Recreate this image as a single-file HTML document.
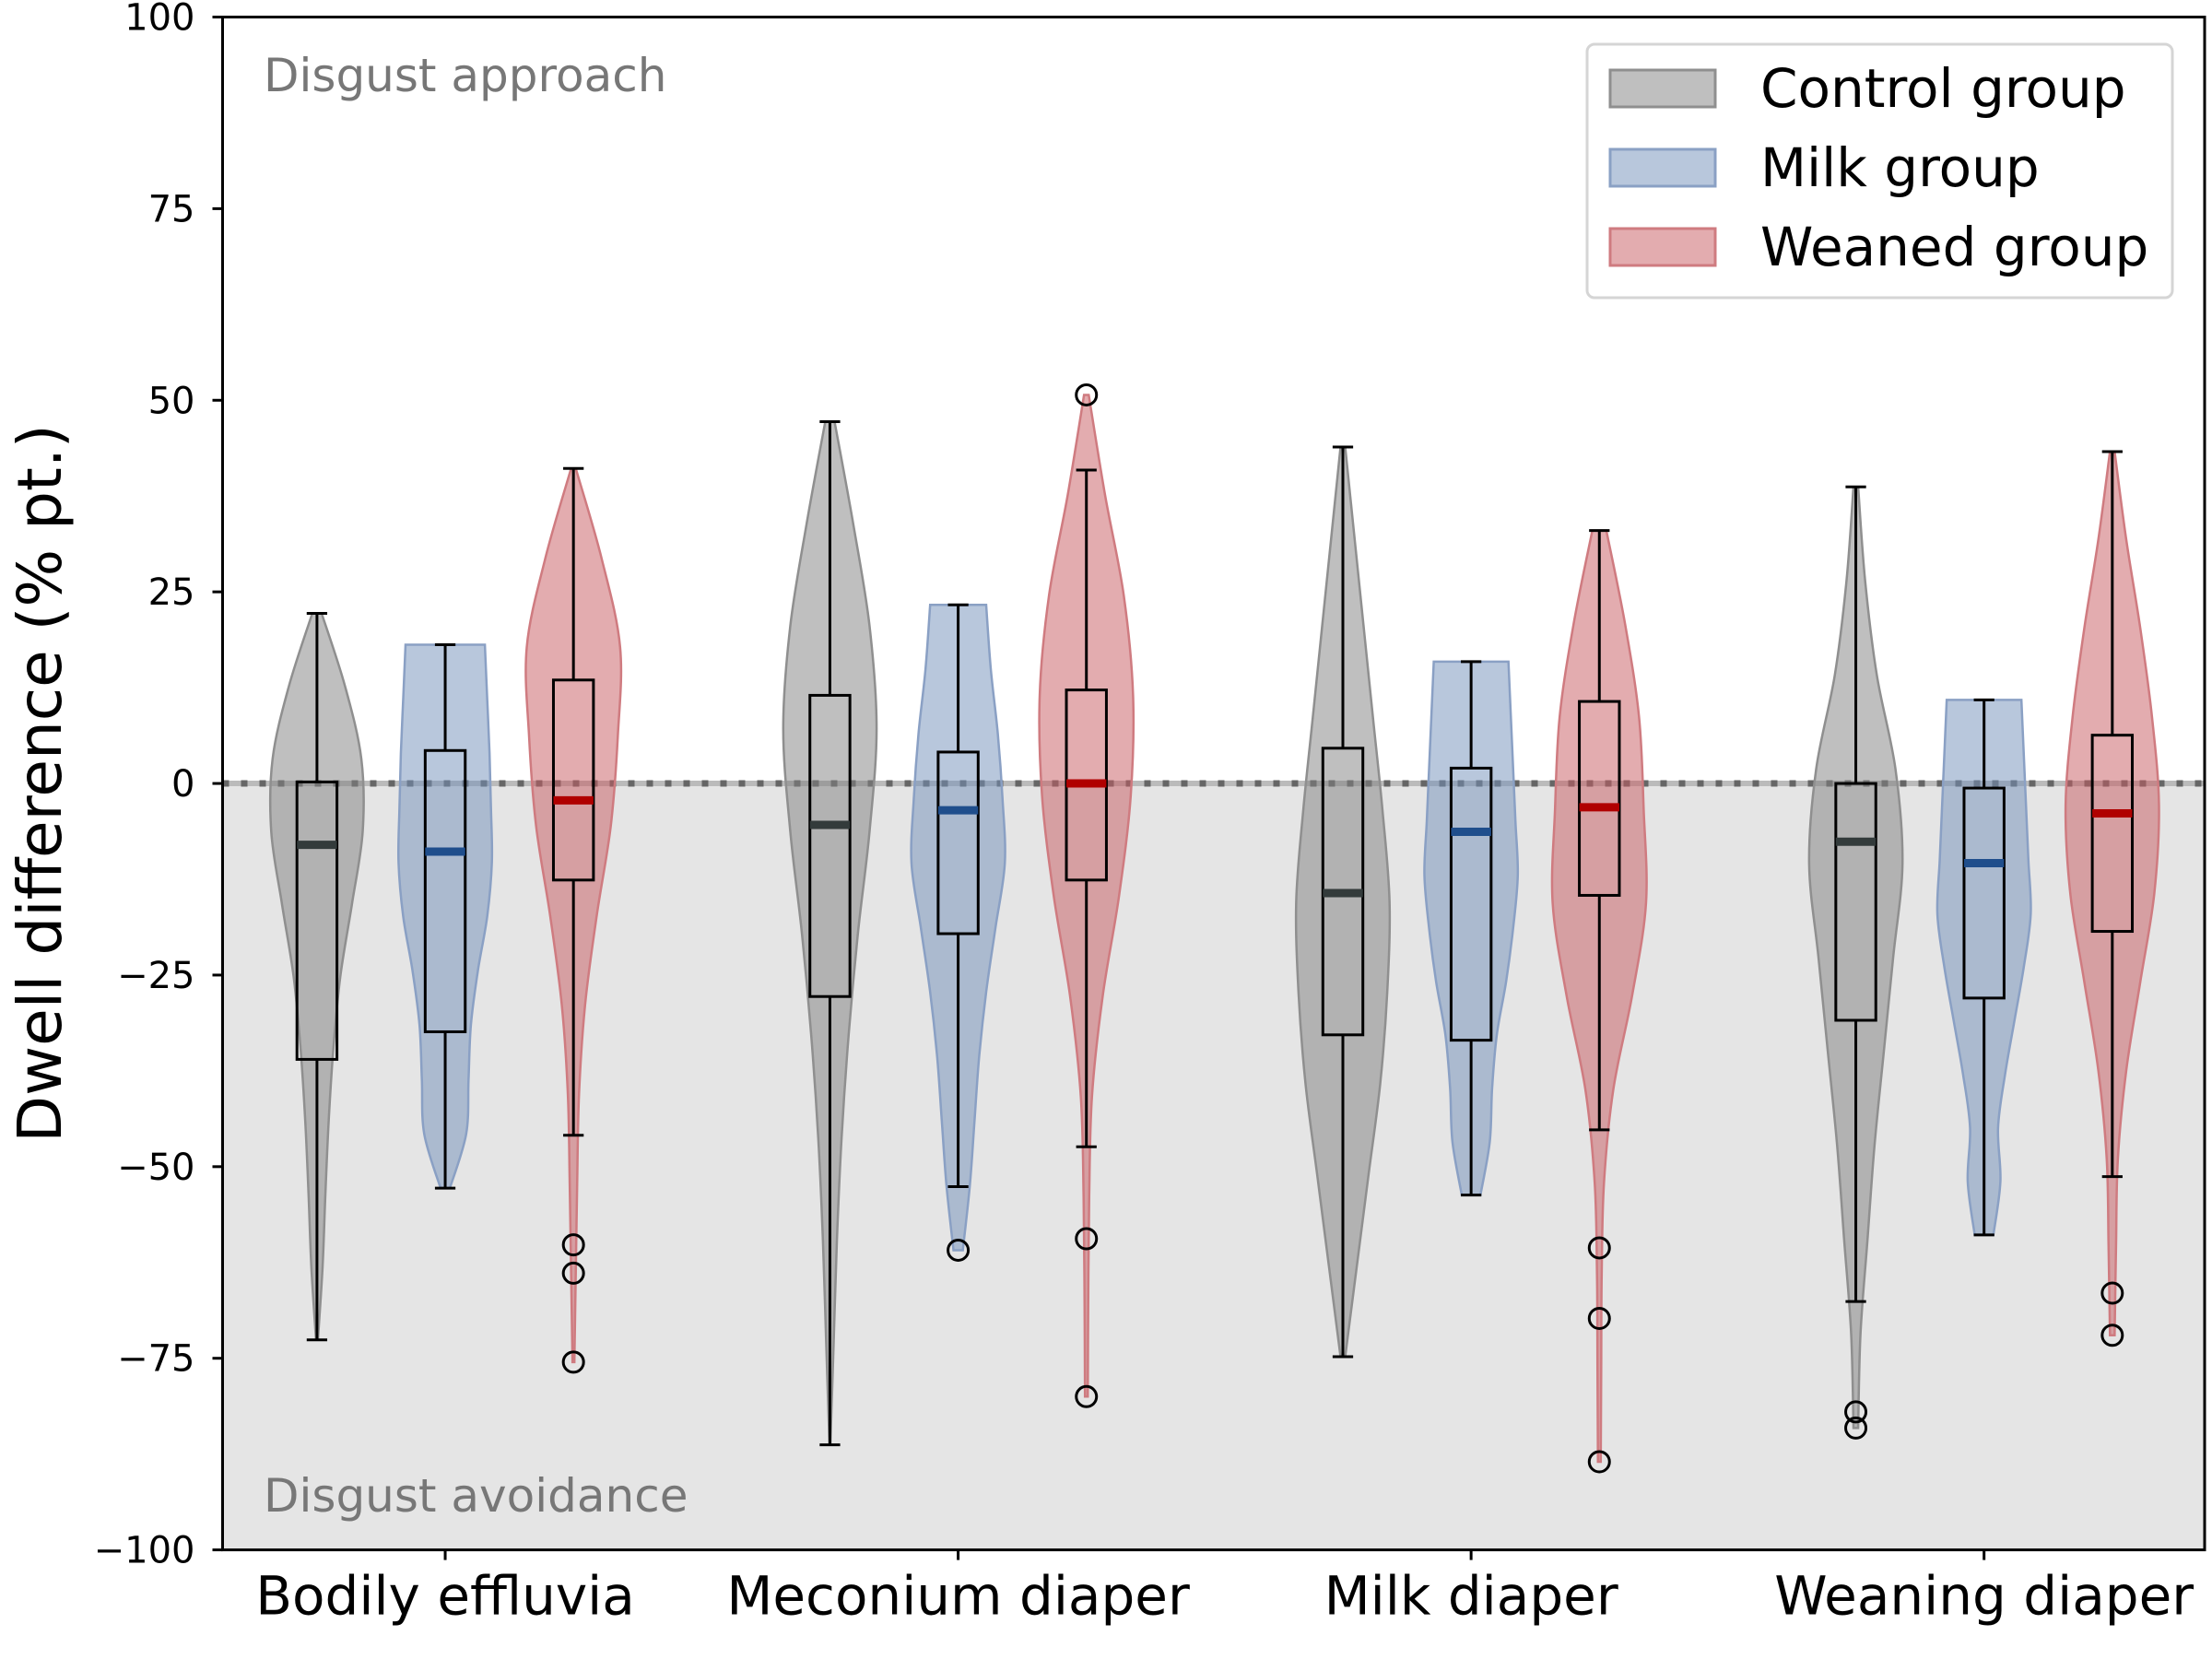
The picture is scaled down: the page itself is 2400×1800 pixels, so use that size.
<!DOCTYPE html>
<html><head><meta charset="utf-8"><style>
html,body{margin:0;padding:0;background:#fff}
svg{display:block;font-family:"DejaVu Sans","Liberation Sans",sans-serif}
</style></head><body>
<svg id="chart" width="2400" height="1800" viewBox="0 0 2400 1800" xmlns="http://www.w3.org/2000/svg">
<g id="plot"></g>
</svg>
<script>
const categories=["Bodily effluvia","Meconium diaper","Milk diaper","Weaning diaper"];
const groups=["Control group","Milk group","Weaned group"];
const yTicks=[-100,-75,-50,-25,0,25,50,75,100];
// box stats per category per group: [whiskerLow, q1, median, q3, whiskerHigh]
const boxControl=[[-72.6,-36,-8,0.2,22.2],[-86.3,-27.8,-5.4,11.5,47.2],[-74.8,-32.8,-14.3,4.6,43.9],[-67.6,-30.9,-7.6,0,38.7]];
const boxMilk=[[-52.8,-32.4,-8.9,4.3,18.1],[-52.6,-19.6,-3.5,4.1,23.3],[-53.7,-33.5,-6.3,2,15.9],[-58.9,-28,-10.4,-0.6,10.9]];
const boxWeaned=[[-45.9,-12.6,-2.2,13.5,41.1],[-47.4,-12.6,0,12.2,40.9],[-45.2,-14.6,-3.1,10.7,33],[-51.3,-19.3,-3.9,6.3,43.3]];
const outControl=[[],[],[],[-82,-84.1]];
const outMilk=[[],[-60.9],[],[]];
const outWeaned=[[-60.2,-63.9,-75.5],[50.7,-59.4,-80],[-60.6,-69.8,-88.5],[-66.5,-72]];
// violin relative densities, bottom->top
const densControl=[[0.02,0.12,0.18,0.25,0.35,0.5,0.75,0.98,0.95,0.6,0.1],[0.01,0.08,0.15,0.25,0.4,0.6,0.85,1,0.85,0.5,0.1],[0.05,0.3,0.55,0.8,0.95,1,0.85,0.65,0.45,0.25,0.05],[0.05,0.1,0.25,0.4,0.6,0.8,1,0.85,0.45,0.2,0.05]];
const densMilk=[[0.1,0.45,0.5,0.55,0.7,0.9,1,0.98,0.95,0.9,0.85],[0.1,0.25,0.35,0.45,0.6,0.8,1,0.95,0.85,0.7,0.6],[0.2,0.4,0.45,0.55,0.75,0.9,1,0.95,0.9,0.85,0.8],[0.2,0.35,0.3,0.45,0.65,0.85,1,0.95,0.9,0.85,0.8]];
const densWeaned=[[0.02,0.05,0.08,0.12,0.25,0.5,0.8,0.95,1,0.6,0.05],[0.03,0.04,0.06,0.12,0.35,0.7,0.95,1,0.8,0.4,0.05],[0.03,0.04,0.05,0.1,0.3,0.7,1,0.95,0.85,0.55,0.15],[0.05,0.08,0.12,0.3,0.6,0.9,1,0.85,0.6,0.3,0.05]];

const L=241.5,R=2392,T=18.5,B=1681.6;
const xMin=-0.434,xMax=3.43,yMin=-100,yMax=100;
const X=v=>L+(v-xMin)/(xMax-xMin)*(R-L);
const Y=v=>B-(v-yMin)/(yMax-yMin)*(B-T);
const NS="http://www.w3.org/2000/svg";
const g=document.getElementById('plot');
function mk(tag,attrs,parent){const e=document.createElementNS(NS,tag);for(const k in attrs)e.setAttribute(k,attrs[k]);(parent||g).appendChild(e);return e;}

const fills=["rgba(128,128,128,0.5)","rgba(113,143,186,0.5)","rgba(200,90,96,0.5)"];
const edges=["#8f8f8f","#8aa0c4","#cf7b80"];
const medCols=["#333b3b","#1f4e8c","#b00000"];
const boxes=[boxControl,boxMilk,boxWeaned], outs=[outControl,outMilk,outWeaned], dens=[densControl,densMilk,densWeaned];

let r=mk('rect',{x:L,y:Y(0),width:R-L,height:B-Y(0),fill:'#e5e5e5'});


let zl=mk('line',{x1:L,x2:R,y1:Y(0),y2:Y(0),stroke:'#bbbbbb','stroke-width':6});


let zd=mk('line',{x1:L,x2:R,y1:Y(0),y2:Y(0),stroke:'#666','stroke-width':7,'stroke-dasharray':'7 13'});



const offsets=[-0.25,0,0.25], halfW=0.091, boxHalf=0.039, capHalf=0.02;
function cr(pts){let p='';for(let i=0;i<pts.length-1;i++){const p0=pts[Math.max(i-1,0)],p1=pts[i],p2=pts[i+1],p3=pts[Math.min(i+2,pts.length-1)];
  p+=` C${p1[0]+(p2[0]-p0[0])/6},${p1[1]+(p2[1]-p0[1])/6} ${p2[0]-(p3[0]-p1[0])/6},${p2[1]-(p3[1]-p1[1])/6} ${p2[0]},${p2[1]}`;}return p;}
for(let c=0;c<categories.length;c++){
  for(let s=0;s<3;s++){
    const pos=c+offsets[s], b=boxes[s][c], o=outs[s][c], d=dens[s][c];
    const lo=Math.min(b[0],...o), hi=Math.max(b[4],...o);
    const n=d.length;
    let right=[],left=[];
    for(let i=0;i<n;i++){const v=lo+(hi-lo)*i/(n-1);right.push([X(pos+d[i]*halfW),Y(v)]);left.push([X(pos-d[i]*halfW),Y(v)]);}
    const lr=left.slice().reverse();
    let dpath=`M${right[0][0]},${right[0][1]}`+cr(right)+` L${lr[0][0]},${lr[0][1]}`+cr(lr)+'Z';
    let vio=mk('path',{d:dpath,fill:fills[s],stroke:edges[s],'stroke-width':2.5});
    
    
    const bg=mk('g',{});
    
    
    const sw=3;
    mk('line',{x1:X(pos),x2:X(pos),y1:Y(b[0]),y2:Y(b[1]),stroke:'#000','stroke-width':sw},bg);
    mk('line',{x1:X(pos),x2:X(pos),y1:Y(b[3]),y2:Y(b[4]),stroke:'#000','stroke-width':sw},bg);
    mk('line',{x1:X(pos-capHalf),x2:X(pos+capHalf),y1:Y(b[0]),y2:Y(b[0]),stroke:'#000','stroke-width':sw},bg);
    mk('line',{x1:X(pos-capHalf),x2:X(pos+capHalf),y1:Y(b[4]),y2:Y(b[4]),stroke:'#000','stroke-width':sw},bg);
    mk('rect',{x:X(pos-boxHalf),y:Y(b[3]),width:X(pos+boxHalf)-X(pos-boxHalf),height:Y(b[1])-Y(b[3]),fill:'none',stroke:'#000','stroke-width':sw},bg);
    mk('line',{x1:X(pos-boxHalf),x2:X(pos+boxHalf),y1:Y(b[2]),y2:Y(b[2]),stroke:medCols[s],'stroke-width':9},bg);
    for(const v of o){let ci=mk('circle',{cx:X(pos),cy:Y(v),r:11,fill:'none',stroke:'#000','stroke-width':3},bg);
      
      }
  }
}
let ax=mk('g',{});


mk('rect',{x:L,y:T,width:R-L,height:B-T,fill:'none',stroke:'#000','stroke-width':3},ax);
for(const t of yTicks){
  mk('line',{x1:L-11,x2:L,y1:Y(t),y2:Y(t),stroke:'#000','stroke-width':3},ax);
  let tx=mk('text',{x:L-30,y:Y(t)+14,'text-anchor':'end','font-size':40,fill:'#000'},ax);
  tx.textContent=(t<0?'\u2212'+(-t):String(t));
  
  
}
for(let c=0;c<categories.length;c++){
  mk('line',{x1:X(c),x2:X(c),y1:B,y2:B+11,stroke:'#000','stroke-width':3},ax);
  let tx=mk('text',{x:X(c),y:B+70,'text-anchor':'middle','font-size':58,fill:'#000'},ax);
  tx.textContent=categories[c];
  
  
}
let yl=mk('text',{x:0,y:0,transform:`translate(66,${(T+B)/2}) rotate(-90)`,'text-anchor':'middle','font-size':66,fill:'#000'});
yl.textContent='Dwell difference (% pt.)';


let a1=mk('text',{x:286,y:99,'font-size':50,fill:'#777'});
a1.textContent='Disgust approach';


let a2=mk('text',{x:286,y:1640,'font-size':50,fill:'#777'});
a2.textContent='Disgust avoidance';


let lg=mk('g',{});


mk('rect',{x:1722,y:48,width:635,height:275,rx:8,fill:'rgba(255,255,255,0.85)',stroke:'#d5d5d5','stroke-width':3},lg);
for(let s=0;s<3;s++){
  const cy=96+s*86;
  let e=mk('g',{},lg);
  
  
  mk('rect',{x:1747,y:cy-20,width:114,height:40,fill:fills[s],stroke:edges[s],'stroke-width':3},e);
  let t=mk('text',{x:1910,y:cy+20,'font-size':58,fill:'#000'},e);
  t.textContent=groups[s];
}
</script>
</body></html>
